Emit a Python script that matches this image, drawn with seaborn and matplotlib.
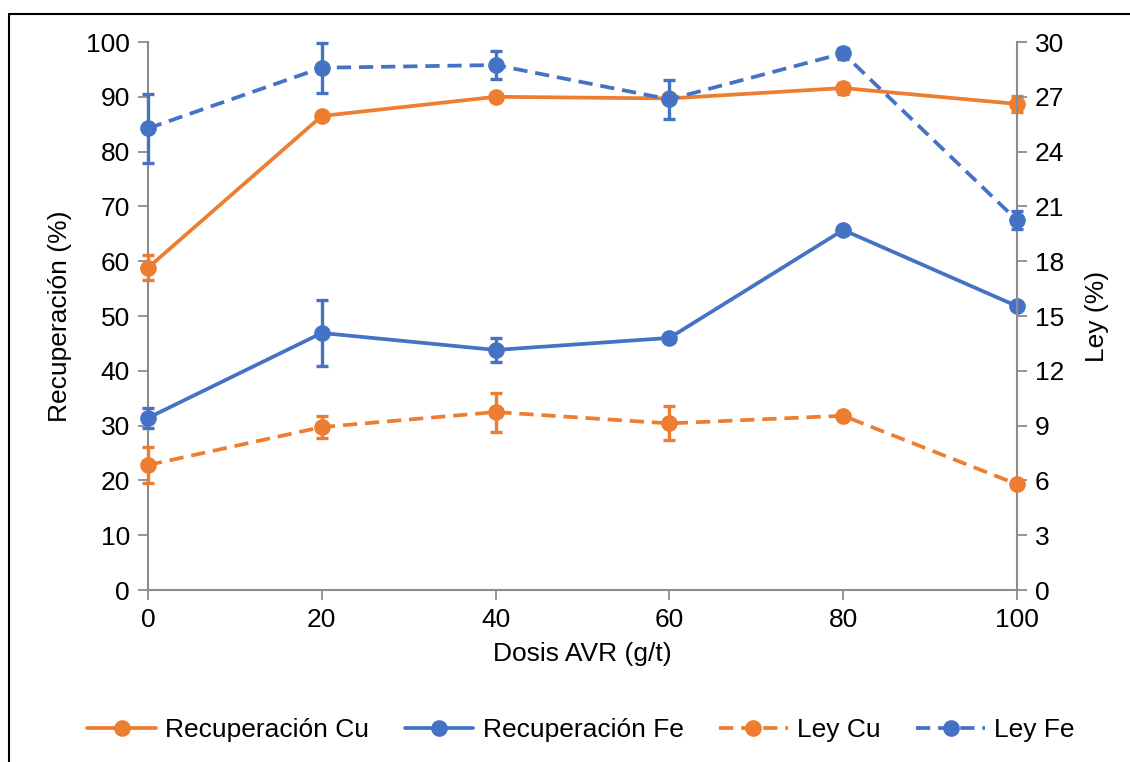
import matplotlib
matplotlib.use("Agg")
import matplotlib.pyplot as plt
from matplotlib.lines import Line2D
import seaborn as sns
import pandas as pd

dosis = [0, 20, 40, 60, 80, 100]
rec_cu = [58.8, 86.5, 90.0, 89.7, 91.6, 88.7]
rec_cu_err = [2.3, 0.6, 0.5, 0.5, 1.0, 1.5]
rec_fe = [31.4, 46.9, 43.8, 46.0, 65.7, 51.8]
rec_fe_err = [1.9, 6.0, 2.2, 0.3, 0.3, 0.3]
ley_cu = [6.84, 8.92, 9.74, 9.12, 9.54, 5.79]
ley_cu_err = [1.0, 0.6, 1.07, 0.93, 0.1, 0.1]
ley_fe = [25.27, 28.59, 28.74, 26.86, 29.38, 20.24]
ley_fe_err = [1.9, 1.37, 0.75, 1.05, 0.3, 0.5]

ORANGE = "#ED7D31"
BLUE = "#4472C4"
GRAY = "#8C8C8C"

sns.set_theme(style="white")
plt.rcParams["font.family"] = ["Liberation Sans", "DejaVu Sans"]
plt.rcParams["text.color"] = "black"
FS = 19

fig = plt.figure(figsize=(11.3, 7.62), dpi=100)
ax = fig.add_axes([148/1130, 1-590/762, (1017-148)/1130, (590-42)/762])
ax2 = ax.twinx()

LW = 2.7
MS = 12
dash = (0, (3.8, 2.1))

def draw(axis, y, err, color, ls, label):
    df = pd.DataFrame({"x": dosis, "y": y})
    sns.lineplot(data=df, x="x", y="y", ax=axis, color=color, linewidth=LW,
                 marker="o", markersize=MS, markeredgecolor=color,
                 markeredgewidth=0, linestyle=ls, label=label, clip_on=False,
                 zorder=3)
    axis.errorbar(dosis, y, yerr=err, fmt="none", ecolor=color,
                  elinewidth=2.4, capsize=4.5, capthick=2.4, clip_on=False,
                  zorder=3)

draw(ax, rec_cu, rec_cu_err, ORANGE, "-", "Recuperación Cu")
draw(ax, rec_fe, rec_fe_err, BLUE, "-", "Recuperación Fe")
draw(ax2, ley_cu, ley_cu_err, ORANGE, dash, "Ley Cu")
draw(ax2, ley_fe, ley_fe_err, BLUE, dash, "Ley Fe")

ax.set_xlim(0, 100)
ax.set_ylim(0, 100)
ax2.set_ylim(0, 30)
ax.set_xticks(range(0, 101, 20))
ax.set_yticks(range(0, 101, 10))
ax2.set_yticks(range(0, 31, 3))

for a in (ax, ax2):
    for s in a.spines.values():
        s.set_visible(False)
    a.grid(False)
    a.tick_params(axis="both", which="major", length=7, width=1.3,
                  color=GRAY, labelsize=FS, labelcolor="black", pad=6)
ax.spines["left"].set_visible(True)
ax.spines["bottom"].set_visible(True)
ax2.spines["right"].set_visible(True)
for s in (ax.spines["left"], ax.spines["bottom"], ax2.spines["right"]):
    s.set_color(GRAY)
    s.set_linewidth(1.5)
ax.tick_params(axis="y", left=True, direction="out")
ax.tick_params(axis="x", bottom=True, direction="out")
ax2.tick_params(axis="y", right=True, direction="out")

ax.set_xlabel("Dosis AVR (g/t)", fontsize=FS, color="black", labelpad=7)
ax.set_ylabel("Recuperación (%)", fontsize=FS, color="black", labelpad=10)
ax2.set_ylabel("Ley (%)", fontsize=FS, color="black", labelpad=15)

h1, l1 = ax.get_legend_handles_labels()
h2, l2 = ax2.get_legend_handles_labels()
if ax.get_legend():
    ax.get_legend().remove()
if ax2.get_legend():
    ax2.get_legend().remove()
fig.legend(h1 + h2, l1 + l2, loc="center", bbox_to_anchor=(581/1130, 1-730/762),
           ncol=4, frameon=False, fontsize=FS, handlelength=2.6,
           handletextpad=0.35, columnspacing=1.35, labelcolor="black")

fig.add_artist(Line2D([9/1130, 9/1130], [0, 1-14/762], transform=fig.transFigure,
                      color="black", linewidth=1.5))
fig.add_artist(Line2D([9/1130, 1], [1-14/762, 1-14/762], transform=fig.transFigure,
                      color="black", linewidth=1.5))

fig.savefig("out.png", dpi=100)
